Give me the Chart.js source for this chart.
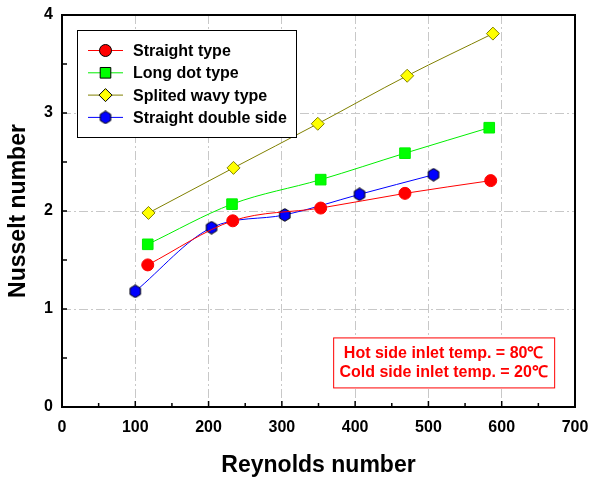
<!DOCTYPE html>
<html>
<head>
<meta charset="utf-8">
<script src="https://cdn.jsdelivr.net/npm/chart.js@4/dist/chart.umd.min.js"></script>
<style>
  html, body { margin: 0; padding: 0; background: #fff; }
  #wrap { width: 590px; height: 479px; }
</style>
</head>
<body>
<div id="wrap"><canvas id="nuChart" width="590" height="479"></canvas></div>
<script>
// data
const straightRe = [117, 233, 353, 468, 585];
const straightNu = [1.45, 1.90, 2.03, 2.18, 2.31];

const longDotRe = [117, 232, 353, 468, 583];
const longDotNu = [1.66, 2.07, 2.32, 2.59, 2.85];

const wavyRe = [118, 234, 349, 471, 588];
const wavyNu = [1.98, 2.44, 2.89, 3.38, 3.81];

const doubleRe = [100, 204, 304, 406, 507];
const doubleNu = [1.18, 1.83, 1.96, 2.17, 2.37];

const seriesNames = ['Straight type', 'Long dot type', 'Splited wavy type', 'Straight double side'];
const noteLines = ['Hot side inlet temp. = 80\u2103', 'Cold side inlet temp. = 20\u2103'];

function toPoints(xs, ys) {
    const pts = [];
    for (let i = 0; i < xs.length; i++) {
        pts.push({x: xs[i], y: ys[i]});
    }
    return pts;
}

// hexagon marker for the blue series
function hexMarker() {
    const c = document.createElement('canvas');
    c.width = 14; c.height = 14;
    const g = c.getContext('2d');
    g.beginPath();
    for (let k = 0; k < 6; k++) {
        const a = Math.PI / 2 + k * Math.PI / 3;
        const px = 7 + 6 * Math.cos(a), py = 7 + 6.3 * Math.sin(a);
        if (k === 0) g.moveTo(px, py); else g.lineTo(px, py);
    }
    g.closePath();
    g.fillStyle = '#0000ff';
    g.fill();
    g.lineWidth = 1;
    g.strokeStyle = '#000';
    g.stroke();
    return c;
}
const hex = hexMarker();

const boldFont = 'Arial, "Liberation Sans", sans-serif';

// frame, inward ticks, legend box and note box
const decorations = {
    id: 'decorations',
    afterDatasetsDraw(chart) {
        const ctx = chart.ctx;
        const a = chart.chartArea;
        const xs = chart.scales.x, ys = chart.scales.y;
        ctx.save();
        ctx.strokeStyle = '#000';
        ctx.lineWidth = 1.5;
        ctx.beginPath();
        for (let v = 50; v < 700; v += 50) {
            const px = xs.getPixelForValue(v);
            const len = v % 100 === 0 ? 6 : 4;
            ctx.moveTo(px, a.bottom);
            ctx.lineTo(px, a.bottom - len);
        }
        for (let v = 0.5; v < 4; v += 0.5) {
            const py = ys.getPixelForValue(v);
            ctx.moveTo(a.left, py);
            ctx.lineTo(a.left + 5, py);
        }
        ctx.stroke();
        ctx.lineWidth = 2;
        ctx.strokeRect(a.left, a.top, a.right - a.left, a.bottom - a.top);

        // legend
        const lx = a.left + 15, ly = a.top + 15;
        ctx.fillStyle = '#fff';
        ctx.fillRect(lx, ly, 219, 107);
        ctx.lineWidth = 1;
        ctx.strokeStyle = '#000';
        ctx.strokeRect(lx + 0.5, ly + 0.5, 219, 107);
        ctx.font = 'bold 16px ' + boldFont;
        ctx.textBaseline = 'middle';
        chart.data.datasets.forEach(function(ds, i) {
            const ry = ly + 20.5 + i * 22.3;
            ctx.strokeStyle = ds.borderColor;
            ctx.lineWidth = 1;
            ctx.beginPath();
            ctx.moveTo(lx + 11, ry);
            ctx.lineTo(lx + 46, ry);
            ctx.stroke();
            ctx.fillStyle = ds.pointBackgroundColor;
            ctx.strokeStyle = '#000';
            Chart.helpers.drawPoint(ctx, {
                pointStyle: ds.pointStyle,
                radius: ds.pointRadius,
                rotation: 0,
                borderWidth: 1
            }, lx + 28.5, ry);
            ctx.fillStyle = '#000';
            ctx.fillText(ds.label, lx + 56, ry + 1);
        });

        // note box
        const nx = xs.getPixelForValue(370), ny = ys.getPixelForValue(0.71);
        const nw = 221, nh = 50;
        ctx.fillStyle = '#fff';
        ctx.fillRect(nx, ny, nw, nh);
        ctx.strokeStyle = '#ff0000';
        ctx.lineWidth = 1;
        ctx.strokeRect(nx + 0.5, ny + 0.5, nw, nh);
        ctx.fillStyle = '#ff0000';
        ctx.textAlign = 'center';
        ctx.font = 'bold 16px ' + boldFont;
        ctx.fillText(noteLines[0], nx + nw / 2, ny + 16);
        ctx.fillText(noteLines[1], nx + nw / 2, ny + 35);
        ctx.restore();
    }
};

const ctxNu = document.getElementById('nuChart');

new Chart(ctxNu, {
    type: 'line',
    data: {
        datasets: [{
            label: seriesNames[0],
            data: toPoints(straightRe, straightNu),
            borderColor: '#ff0000',
            pointBackgroundColor: '#ff0000',
            pointStyle: 'circle',
            pointRadius: 6
        }, {
            label: seriesNames[1],
            data: toPoints(longDotRe, longDotNu),
            borderColor: '#00ee00',
            pointBackgroundColor: '#00ff00',
            pointStyle: 'rect',
            pointRadius: 7.5
        }, {
            label: seriesNames[2],
            data: toPoints(wavyRe, wavyNu),
            borderColor: '#808000',
            pointBackgroundColor: '#ffff00',
            pointStyle: 'rectRot',
            pointRadius: 6.5
        }, {
            label: seriesNames[3],
            data: toPoints(doubleRe, doubleNu),
            borderColor: '#0000ff',
            pointBackgroundColor: '#0000ff',
            pointStyle: hex,
            pointRadius: 6
        }]
    },
    options: {
        responsive: false,
        animation: false,
        layout: { padding: { top: 15, right: 15, left: 0, bottom: 0 } },
        elements: {
            line: { borderWidth: 1, cubicInterpolationMode: 'monotone', fill: false },
            point: { borderColor: '#000', borderWidth: 1 }
        },
        plugins: {
            legend: { display: false },
            tooltip: { enabled: false }
        },
        scales: {
            x: {
                type: 'linear',
                min: 0, max: 700,
                afterFit: function(s) {
                    s.height = 72;
                    s.paddingLeft = 0;
                    s.paddingRight = 0;
                },
                ticks: {
                    stepSize: 100,
                    padding: 11,
                    color: '#000',
                    font: { family: boldFont, size: 16, weight: 'bold' }
                },
                grid: { color: '#c8c8c8', lineWidth: 1, drawTicks: false },
                border: { display: false, dash: [9, 3, 2, 3] },
                title: {
                    display: true,
                    text: 'Reynolds number',
                    color: '#000',
                    padding: { top: 0, bottom: 0 },
                    font: { family: boldFont, size: 23, weight: 'bold' }
                }
            },
            y: {
                min: 0, max: 4,
                afterFit: function(s) {
                    s.width = 62;
                    s.paddingTop = 0;
                    s.paddingBottom = 0;
                },
                ticks: {
                    stepSize: 1,
                    padding: 9,
                    color: '#000',
                    font: { family: boldFont, size: 16, weight: 'bold' }
                },
                grid: { color: '#c8c8c8', lineWidth: 1, drawTicks: false },
                border: { display: false, dash: [9, 3, 2, 3] },
                title: {
                    display: true,
                    text: 'Nusselt number',
                    color: '#000',
                    padding: { top: 5, bottom: 0 },
                    font: { family: boldFont, size: 23, weight: 'bold' }
                }
            }
        }
    },
    plugins: [decorations]
});
</script>
</body>
</html>
